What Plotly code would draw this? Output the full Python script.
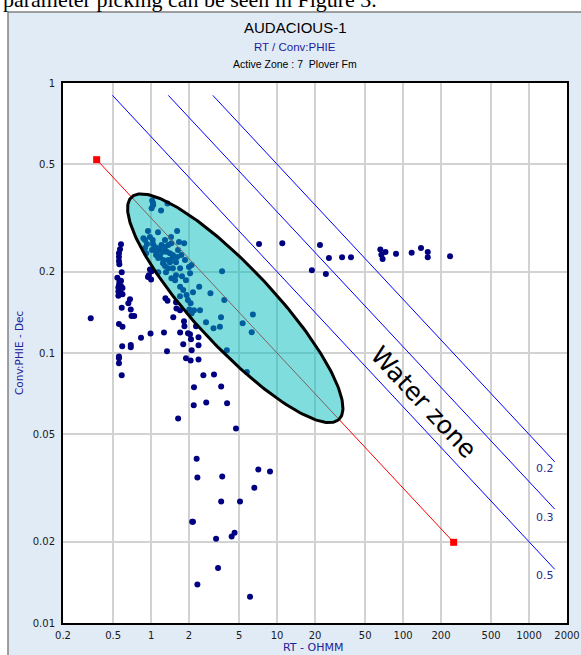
import numpy as np
import plotly.graph_objects as go

# ---------------- data ----------------
# Core points: deep resistivity (ohm.m) and effective porosity (v/v)
rt = [
    # low-resistivity column
    0.577, 0.567, 0.556, 0.556, 0.556, 0.560, 0.585, 0.540, 0.556, 0.550,
    0.577, 0.593, 0.550, 0.577, 0.550, 0.593, 0.560, 0.577, 0.680, 0.660,
    0.585, 0.690, 0.700, 0.735, 0.556, 0.593, 0.832, 0.590, 0.690, 0.690,
    0.556, 0.556, 0.556, 0.585, 0.332,
    # shaly points below the trend
    0.990, 1.266, 1.338, 1.700, 1.800, 1.893, 2.060, 2.380, 1.964, 2.037,
    2.074, 2.100, 2.380, 2.380, 2.600, 3.158, 3.600, 2.191, 2.740, 4.010,
    2.180, 1.640, 4.720, 5.760, 3.990, 0.980, 1.010, 0.960, 0.945, 1.000,
    1.140, 1.300, 1.350, 1.577, 1.590, 1.697, 1.500, 1.825, 1.840, 2.010,
    2.100, 2.273,
    # tight tail
    2.30, 2.33, 3.67, 7.10, 8.79, 6.60, 3.60, 5.08, 2.12, 2.15,
    4.60, 4.36, 3.28, 3.40, 2.33, 6.10,
    # clean water-bearing trend
    1.02, 1.04, 1.01, 1.036, 1.35, 1.20, 0.945, 1.61, 1.44, 0.87,
    0.98, 1.03, 1.075, 1.14, 1.21, 1.29, 1.37, 1.45, 1.83, 0.915,
    1.10, 1.177, 1.25, 1.33, 1.41, 1.49, 1.74, 1.14, 1.25, 1.37,
    1.48, 1.61, 1.86, 2.10, 1.29, 1.37, 1.49, 1.70, 2.00, 2.04,
    1.45, 1.55, 1.70, 1.80, 1.91, 1.96, 2.06, 2.41, 2.96, 3.81,
    3.66, 2.445, 2.73, 3.13, 3.52, 3.59, 5.33, 6.43, 6.29, 2.19,
    0.895, 0.928, 1.017, 1.094, 1.177, 1.244, 1.413, 1.577, 1.636, 1.666,
    1.29, 1.135, 0.895, 1.036, 1.577, 1.314, 1.76, 1.893, 2.151, 1.697,
    # high-resistivity points
    7.19, 11.0, 21.9, 25.8, 32.8, 38.6, 18.9, 24.4, 66.0, 72.5,
    67.3, 68.8, 87.9, 117.0, 138.8, 157.0, 157.0, 236.0,
]
phie = [
    0.253, 0.242, 0.234, 0.227, 0.219, 0.213, 0.199, 0.190, 0.178, 0.175,
    0.177, 0.174, 0.169, 0.166, 0.163, 0.165, 0.183, 0.185, 0.158, 0.153,
    0.147, 0.145, 0.137, 0.137, 0.128, 0.125, 0.114, 0.106, 0.107, 0.105,
    0.097, 0.0956, 0.0916, 0.0827, 0.1345,
    0.118, 0.119, 0.1015, 0.119, 0.1077, 0.0956, 0.0939, 0.0947, 0.1183, 0.1173,
    0.1124, 0.1023, 0.1143, 0.1068, 0.0827, 0.0833, 0.0752, 0.0746, 0.0655, 0.0651,
    0.0640, 0.0572, 0.0525, 0.0850, 0.1023, 0.204, 0.201, 0.1942, 0.191, 0.187,
    0.1993, 0.1596, 0.156, 0.154, 0.146, 0.144, 0.1357, 0.131, 0.1256, 0.145,
    0.1404, 0.1256,
    0.0406, 0.0346, 0.0349, 0.0370, 0.0364, 0.0317, 0.0282, 0.0282, 0.0237, 0.0237,
    0.0216, 0.0209, 0.0205, 0.0160, 0.0139, 0.0125,
    0.367, 0.353, 0.344, 0.359, 0.358, 0.337, 0.283, 0.283, 0.269, 0.266,
    0.269, 0.262, 0.247, 0.244, 0.251, 0.247, 0.251, 0.255, 0.255, 0.234,
    0.237, 0.2405, 0.237, 0.237, 0.234, 0.2305, 0.2305, 0.2246, 0.2208, 0.2208,
    0.2246, 0.2266, 0.2208, 0.2116, 0.2098, 0.2062, 0.2062, 0.2062, 0.208, 0.1976,
    0.189, 0.186, 0.176, 0.171, 0.164, 0.157, 0.153, 0.176, 0.1666, 0.157,
    0.201, 0.144, 0.130, 0.1235, 0.125, 0.1357, 0.1289, 0.139, 0.1193, 0.144,
    0.262, 0.2532, 0.2405, 0.2305, 0.2285, 0.2152, 0.217, 0.217, 0.2405, 0.2576,
    0.262, 0.280, 0.2447, 0.2532, 0.1942, 0.1993, 0.1926, 0.1861, 0.168, 0.1623,
    0.2532, 0.2547, 0.2511, 0.2248, 0.2265, 0.2265, 0.2025, 0.196, 0.2418, 0.2366,
    0.2313, 0.2227, 0.233, 0.235, 0.2447, 0.2366, 0.2265, 0.228,
]

# Water line (Sw = 1, Rw = 0.1, m = 2) end points
wet_rt = [0.37, 252.0]
wet_phi = [0.52, 0.0199]

# Constant-Sw lines: start and end points
sw_labels = ["0.2", "0.3", "0.5"]
sw_rt = [[3.09, 1600.0], [1.37, 1600.0], [0.494, 1600.0]]
sw_phi = [[0.90, 0.0395], [0.90, 0.0264], [0.90, 0.0158]]
sw_label_rt = 1340.0
sw_label_phi = [0.0373, 0.0246, 0.0150]

# Selection ellipse: tips on the water line and minor/major ratio
ellipse_tip_rt = [0.70, 31.0]
ellipse_tip_phi = [0.378, 0.0568]
ellipse_axis_ratio = 0.26

water_zone_rt, water_zone_phi = 146.6, 0.0656

x_ticks = [0.2, 0.5, 1, 2, 5, 10, 20, 50, 100, 200, 500, 1000, 2000]
y_ticks = [0.01, 0.02, 0.05, 0.1, 0.2, 0.5, 1]

# ---------------- layout geometry ----------------
W, H = 581, 655
L, R, T, B = 63, 14, 83, 32
pw, ph = W - L - R, H - T - B

x_range = [np.log10(0.2), np.log10(2000)]
y_range = [-2.0, 0.0]


def px_x(p):
    return (p - L) / pw


def px_y(p):
    return (H - B - p) / ph


NAVY = "#000080"
TXT_BLUE = "#22229a"
TICK_FONT = dict(family="DejaVu Sans", size=10, color="#1a1a1a")

fig = go.Figure()

# data points (drawn first so the translucent ellipse tints them)
fig.add_trace(go.Scatter(
    x=rt, y=phie, mode="markers",
    marker=dict(color=NAVY, size=6, line=dict(width=0)),
    hoverinfo="skip",
))

# constant-Sw lines
for xs, ys in zip(sw_rt, sw_phi):
    fig.add_trace(go.Scatter(
        x=xs, y=ys, mode="lines",
        line=dict(color="#0000ff", width=1), hoverinfo="skip",
    ))

# water line with its two handles
fig.add_trace(go.Scatter(
    x=wet_rt, y=wet_phi, mode="lines+markers",
    line=dict(color="#ff0000", width=1),
    marker=dict(symbol="square", size=7, color="#ff0000"),
    hoverinfo="skip",
))

# ellipse built in display space so it is a true ellipse on the log-log plot
ux = pw / (x_range[1] - x_range[0])
uy = ph / (y_range[1] - y_range[0])
p1 = np.array([np.log10(ellipse_tip_rt[0]) * ux, np.log10(ellipse_tip_phi[0]) * uy])
p2 = np.array([np.log10(ellipse_tip_rt[1]) * ux, np.log10(ellipse_tip_phi[1]) * uy])
c = (p1 + p2) / 2
a = (p2 - p1) / 2
nvec = np.array([-a[1], a[0]]) * ellipse_axis_ratio
t = np.linspace(0, 2 * np.pi, 241)
pts = c[:, None] + a[:, None] * np.cos(t) + nvec[:, None] * np.sin(t)
ell_rt = 10 ** (pts[0] / ux)
ell_phi = 10 ** (pts[1] / uy)
fig.add_trace(go.Scatter(
    x=ell_rt, y=ell_phi, mode="lines", fill="toself",
    fillcolor="rgba(0,187,187,0.5)",
    line=dict(color="black", width=3), hoverinfo="skip",
))


def label(x, y, text, font, xref="paper", yref="paper", **kw):
    d = dict(x=x, y=y, xref=xref, yref=yref, text=text, showarrow=False,
             xanchor="center", yanchor="middle", font=font)
    d.update(kw)
    return d


annotations = []
# Sw labels
for lab, yv in zip(sw_labels, sw_label_phi):
    annotations.append(label(
        np.log10(sw_label_rt), np.log10(yv), lab,
        dict(family="DejaVu Sans", size=11, color="#2b2b8c"), xref="x", yref="y"))
# zone label
annotations.append(label(
    np.log10(water_zone_rt), np.log10(water_zone_phi), "Water zone",
    dict(family="DejaVu Sans", size=25, color="black"),
    xref="x", yref="y", textangle=47))
# titles
annotations += [
    label(px_x(295), px_y(27), "AUDACIOUS-1",
          dict(family="Liberation Sans", size=15, color="black")),
    label(px_x(295), px_y(47.3), "RT / Conv:PHIE",
          dict(family="Liberation Sans", size=11.5, color="#1c1c9c")),
    label(px_x(295), px_y(64.3), "Active Zone : 7\u00a0\u00a0Plover Fm",
          dict(family="Liberation Sans", size=10.5, color="black")),
    label(px_x(313), px_y(647), "RT - OHMM",
          dict(family="DejaVu Sans", size=11, color=TXT_BLUE)),
    label(px_x(19), px_y(353), "Conv:PHIE - Dec",
          dict(family="DejaVu Sans", size=10.5, color=TXT_BLUE), textangle=-90),
    # running text of the page above the figure
    label(px_x(1), px_y(-1), "parameter picking can be seen in Figure 3.",
          dict(family="Liberation Serif", size=22, color="black"),
          xanchor="left"),
]

shapes = [
    # white page strips around the framed panel
    dict(type="rect", xref="paper", yref="paper",
         x0=-0.3, x1=1.3, y0=px_y(12), y1=px_y(-20),
         fillcolor="white", line=dict(width=0)),
    dict(type="rect", xref="paper", yref="paper",
         x0=-0.3, x1=px_x(8), y0=-0.3, y1=px_y(-20),
         fillcolor="white", line=dict(width=0)),
    # panel frame
    dict(type="line", xref="paper", yref="paper",
         x0=px_x(8), x1=px_x(8), y0=-0.3, y1=px_y(12),
         line=dict(color="#808080", width=1.5)),
    dict(type="line", xref="paper", yref="paper",
         x0=px_x(8), x1=1.3, y0=px_y(12), y1=px_y(12),
         line=dict(color="#808080", width=1.5)),
]

axis_common = dict(
    type="log", showline=True, linecolor="black", linewidth=2, mirror=True,
    showgrid=True, gridcolor="#d2d2d2", gridwidth=2, zeroline=False,
    ticks="", tickfont=TICK_FONT, automargin=False,
)

fig.update_layout(
    width=W, height=H,
    margin=dict(l=L, r=R, t=T, b=B, pad=0),
    paper_bgcolor="#e1ebf5",
    plot_bgcolor="white",
    showlegend=False,
    xaxis=dict(axis_common, range=x_range, tickvals=x_ticks,
               ticktext=[f"{v:g}" for v in x_ticks], ticklabelstandoff=2),
    yaxis=dict(axis_common, range=y_range, tickvals=y_ticks,
               ticktext=[f"{v:g}" for v in y_ticks], ticklabelstandoff=4),
    annotations=annotations,
    shapes=shapes,
)

fig.write_html("out.html")
